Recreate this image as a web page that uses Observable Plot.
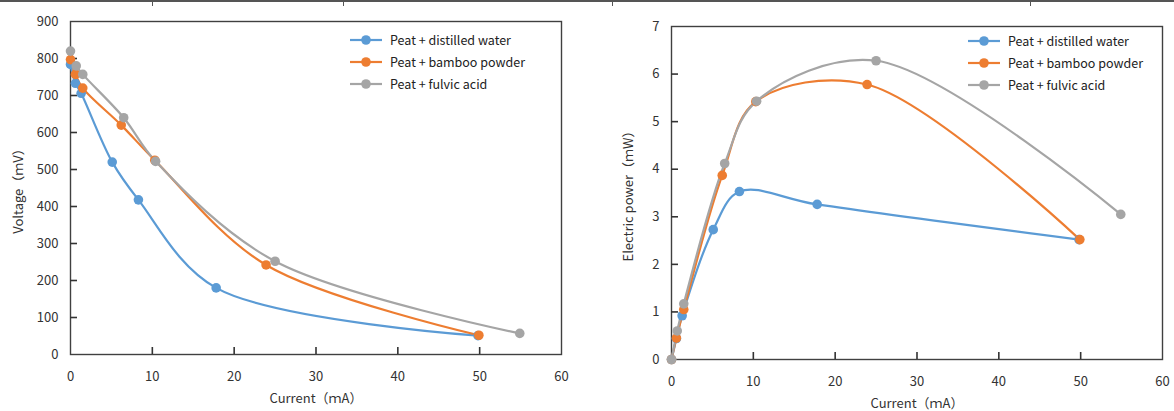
<!DOCTYPE html>
<html><head><meta charset="utf-8">
<script src="https://cdn.jsdelivr.net/npm/d3@7"></script>
<script src="https://cdn.jsdelivr.net/npm/@observablehq/plot@0.6"></script>
<style>
body{margin:0;background:#fff;font-family:"Noto Sans CJK JP","Noto Sans",sans-serif}
#wrap{position:relative;width:1174px;height:411px;overflow:hidden;background:#fff}
#left{position:absolute;left:0;top:0}
#right{position:absolute;left:600px;top:0}
.legend{position:absolute;font-size:12.5px;color:#222;line-height:22px}
.legend .row{display:flex;align-items:center;white-space:nowrap}
.legend svg{margin-right:8px}
#topline{position:absolute;left:0;top:0;width:1174px;height:2px;background:#555}
.vt{position:absolute;top:0;width:1px;height:6px;background:#555}
</style></head>
<body><div id="wrap">
<div id="left"></div><div id="right"></div>
<div id="topline"></div>
</div>
<script>
// ---- data ----
const seriesNames = ["Peat + distilled water", "Peat + bamboo powder", "Peat + fulvic acid"];
const seriesColors = ["#5B9BD5", "#ED7D31", "#A5A5A5"];

const currentWater  = [0, 0.6, 1.3, 5.1, 8.3, 17.8, 49.8];
const voltageWater  = [784, 733, 706, 520, 418, 180, 51];
const powerWater    = [0, 0.44, 0.92, 2.73, 3.53, 3.26, 2.52];

const currentBamboo = [0, 0.6, 1.5, 6.2, 10.3, 23.9, 49.9];
const voltageBamboo = [797, 757, 720, 620, 525, 242, 52];
const powerBamboo   = [0, 0.45, 1.05, 3.87, 5.42, 5.78, 2.52];

const currentFulvic = [0, 0.7, 1.5, 6.5, 10.4, 25.0, 54.9];
const voltageFulvic = [820, 780, 757, 640, 522, 252, 57];
const powerFulvic   = [0, 0.60, 1.17, 4.12, 5.43, 6.28, 3.05];

const xTicks = [0, 10, 20, 30, 40, 50, 60];
const voltageTicks = [0, 100, 200, 300, 400, 500, 600, 700, 800, 900];
const powerTicks = [0, 1, 2, 3, 4, 5, 6, 7];

// ---- build rows ----
const currents = [currentWater, currentBamboo, currentFulvic];
const voltages = [voltageWater, voltageBamboo, voltageFulvic];
const powers = [powerWater, powerBamboo, powerFulvic];
const rows = [];
seriesNames.forEach((s, k) => currents[k].forEach((c, i) =>
  rows.push({series: s, current: c, voltage: voltages[k][i], power: powers[k][i]})));

const font = "'Noto Sans CJK JP','Noto Sans',sans-serif";
const TICK = 7; // inward tick length, px

function chart({width, height, ml, mr, mt, mb, yField, yDomain, yTicks, xLabel, yLabel, yLabelOffset, xLabelOffset}) {
  const pw = width - ml - mr, ph = height - mt - mb;
  const xDomain = [xTicks[0], xTicks[xTicks.length - 1]];
  const yTickLen = (yDomain[1] - yDomain[0]) * TICK / ph;
  const xTickLen = (xDomain[1] - xDomain[0]) * TICK / pw;
  return Plot.plot({
    width, height, marginLeft: ml, marginRight: mr, marginTop: mt, marginBottom: mb,
    style: {fontFamily: font, fontSize: "13px", color: "#333", background: "#fff", overflow: "visible"},
    x: {domain: xDomain},
    y: {domain: yDomain},
    color: {domain: seriesNames, range: seriesColors},
    marks: [
      Plot.frame({stroke: "#404040", strokeWidth: 1.4}),
      Plot.axisX({ticks: xTicks, tickSize: 0, tickPadding: 17, tickFormat: d => String(d), label: xLabel, labelAnchor: "center", labelArrow: "none", labelOffset: xLabelOffset, fontSize: 13}),
      Plot.axisY({ticks: yTicks, tickSize: 0, tickPadding: 12, tickFormat: d => String(d), label: yLabel, labelAnchor: "center", labelArrow: "none", labelOffset: yLabelOffset, fontSize: 13}),
      // inward tick marks
      Plot.ruleX(xTicks.slice(1, -1), {x: d => d, y1: yDomain[0], y2: yDomain[0] + yTickLen, stroke: "#333", strokeWidth: 1.6}),
      Plot.ruleY(yTicks.slice(1, -1), {y: d => d, x1: xDomain[0], x2: xDomain[0] + xTickLen, stroke: "#333", strokeWidth: 1.6}),
      Plot.line(rows, {x: "current", y: yField, z: "series", stroke: "series", strokeWidth: 2.2, curve: "catmull-rom"}),
      Plot.dot(rows, {x: "current", y: yField, fill: "series", r: 4.8})
    ]
  });
}

document.getElementById("left").append(chart({
  width: 600, height: 411, ml: 70, mr: 39, mt: 21, mb: 57,
  yField: "voltage", yDomain: [0, 900], yTicks: voltageTicks,
  xLabel: "Current（ｍA）", yLabel: "Voltage（ｍV）", yLabelOffset: 57, xLabelOffset: 48
}));
document.getElementById("right").append(chart({
  width: 574, height: 411, ml: 71, mr: 12, mt: 26, mb: 52,
  yField: "power", yDomain: [0, 7], yTicks: powerTicks,
  xLabel: "Current（ｍA）", yLabel: "Electric power（ｍW）", yLabelOffset: 48, xLabelOffset: 48
}));

// ---- legends ----
function legend(left, top) {
  const div = document.createElement("div");
  div.className = "legend";
  div.style.left = left + "px"; div.style.top = top + "px";
  seriesNames.forEach((s, k) => {
    const row = document.createElement("div");
    row.className = "row";
    row.innerHTML = `<svg width="32" height="12"><line x1="0" x2="32" y1="6" y2="6" stroke="${seriesColors[k]}" stroke-width="2.2"/><circle cx="16" cy="6" r="4.8" fill="${seriesColors[k]}"/></svg><span>${s}</span>`;
    div.append(row);
  });
  document.getElementById("wrap").append(div);
}
legend(350, 29);
legend(968, 30);

[152, 343, 612, 1030].forEach(x => {
  const d = document.createElement("div"); d.className = "vt"; d.style.left = x + "px";
  document.getElementById("wrap").append(d);
});
</script>
</body></html>
